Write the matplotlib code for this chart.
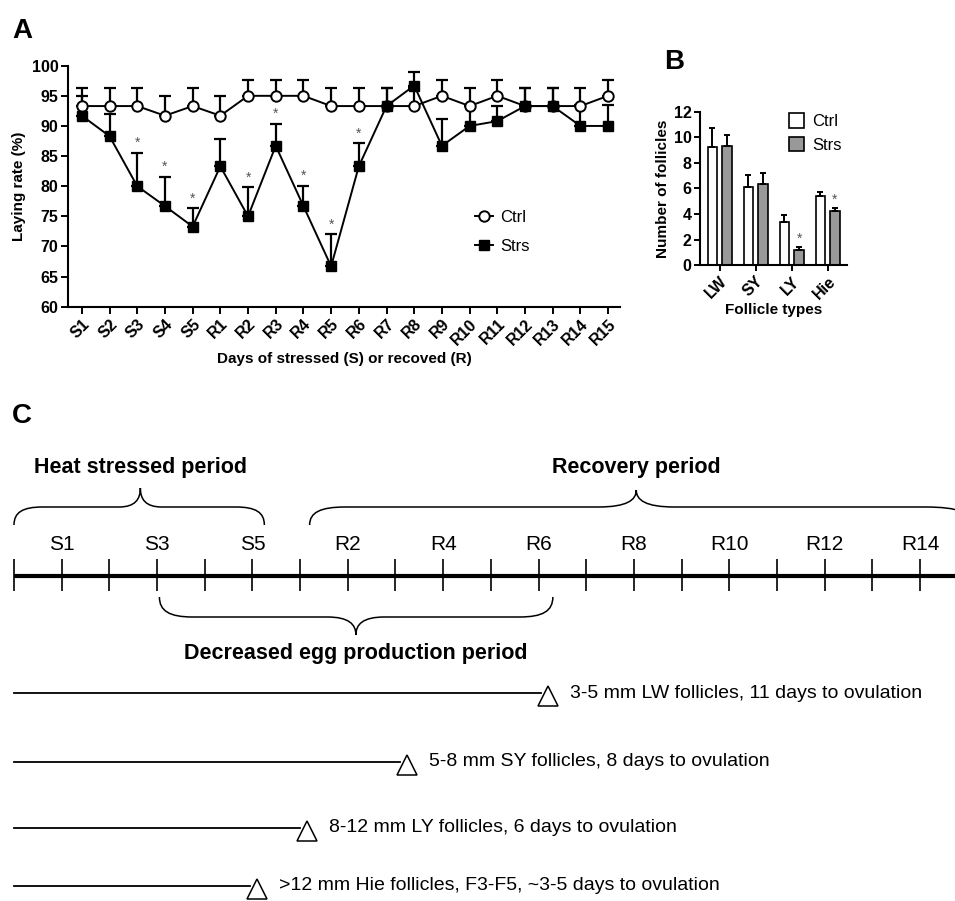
import numpy as np
import matplotlib
matplotlib.use("Agg")
import matplotlib.pyplot as plt
from matplotlib.path import Path
from matplotlib.patches import PathPatch

plt.rcParams['font.family'] = ['Liberation Sans', 'DejaVu Sans']

# ------------------------------
# Panel A: laying rate
# ------------------------------
days = ['S1', 'S2', 'S3', 'S4', 'S5', 'R1', 'R2', 'R3', 'R4', 'R5',
        'R6', 'R7', 'R8', 'R9', 'R10', 'R11', 'R12', 'R13', 'R14', 'R15']
ctrl_rate = [93.3, 93.3, 93.3, 91.7, 93.3, 91.7, 95.0, 95.0, 95.0, 93.3,
             93.3, 93.3, 93.3, 95.0, 93.3, 95.0, 93.3, 93.3, 93.3, 95.0]
ctrl_err = [3.0, 3.0, 3.0, 3.3, 3.0, 3.3, 2.7, 2.7, 2.7, 3.0,
            3.0, 3.0, 3.0, 2.7, 3.0, 2.7, 3.0, 3.0, 3.0, 2.7]
strs_rate = [91.7, 88.3, 80.0, 76.7, 73.3, 83.3, 75.0, 86.7, 76.7, 66.7,
             83.3, 93.3, 96.7, 86.7, 90.0, 90.8, 93.3, 93.3, 90.0, 90.0]
strs_err = [3.3, 3.7, 5.5, 4.9, 3.0, 4.5, 4.8, 3.6, 3.3, 5.3,
            3.8, 3.0, 2.2, 4.4, 3.3, 2.5, 3.0, 3.0, 3.5, 3.5]
sig_days = ['S3', 'S4', 'S5', 'R2', 'R3', 'R4', 'R5', 'R6']

# ------------------------------
# Panel B: follicle numbers
# ------------------------------
follicle_types = ['LW', 'SY', 'LY', 'Hie']
ctrl_count = [9.25, 6.15, 3.4, 5.4]
ctrl_count_err = [1.5, 0.9, 0.5, 0.3]
strs_count = [9.3, 6.35, 1.2, 4.25]
strs_count_err = [0.9, 0.85, 0.25, 0.2]
sig_types = ['LY', 'Hie']

# ------------------------------
# Panel C: timeline scheme
# ------------------------------
n_days = 20
timeline_labels = ['S1', 'S3', 'S5', 'R2', 'R4', 'R6', 'R8', 'R10', 'R12', 'R14']
timeline_label_days = [1, 3, 5, 7, 9, 11, 13, 15, 17, 19]
# (text, start day, tip day, end day)
period_up = [('Heat stressed period', 0.0, 2.65, 5.25),
             ('Recovery period', 6.2, 13.05, 20.1)]
period_down = [('Decreased egg production period', 3.05, 7.17, 11.3)]
follicle_desc = ['3-5 mm LW follicles, 11 days to ovulation',
                 '5-8 mm SY follicles, 8 days to ovulation',
                 '8-12 mm LY follicles, 6 days to ovulation',
                 '>12 mm Hie follicles, F3-F5, ~3-5 days to ovulation']
follicle_days = [11.2, 8.25, 6.15, 5.1]

W, H = 955, 901
fig = plt.figure(figsize=(W / 100, H / 100), dpi=100)

# ---------- A ----------
axA = fig.add_axes([68 / W, 1 - 306.7 / H, (620 - 68) / W, (306.7 - 65.7) / H])
x = np.arange(len(days))
axA.errorbar(x, ctrl_rate, yerr=[np.zeros(len(x)), ctrl_err], fmt='none',
             ecolor='black', elinewidth=1.6, capsize=4.5, capthick=1.6, zorder=2)
axA.errorbar(x, strs_rate, yerr=[np.zeros(len(x)), strs_err], fmt='none',
             ecolor='black', elinewidth=1.6, capsize=4.5, capthick=1.6, zorder=2)
axA.plot(x, ctrl_rate, color='black', lw=1.4, marker='o', ms=7.5,
         mfc='white', mec='black', mew=1.4, zorder=3, label='Ctrl')
axA.plot(x, strs_rate, color='black', lw=1.4, marker='s', ms=7.5,
         mfc='black', mec='black', zorder=4, label='Strs')
for d in sig_days:
    i = days.index(d)
    axA.text(i, strs_rate[i] + strs_err[i] + 0.5, '*', ha='center', va='bottom',
             fontsize=10, color='#555555')
axA.set_ylim(60, 100)
axA.set_xlim(-0.5, 19.43)
axA.set_yticks(np.arange(60, 101, 5))
axA.set_xticks(x)
axA.set_xticklabels(days, rotation=45, ha='right', rotation_mode='anchor',
                    fontsize=11.5, fontweight='bold')
for lab in axA.get_yticklabels():
    lab.set_fontsize(11.5)
    lab.set_fontweight('bold')
axA.spines['top'].set_visible(False)
axA.spines['right'].set_visible(False)
for s in ['left', 'bottom']:
    axA.spines[s].set_linewidth(1.5)
axA.tick_params(width=1.4, length=5, pad=2)
axA.set_ylabel('Laying rate (%)', fontsize=11, fontweight='bold', labelpad=4)
axA.set_xlabel('Days of stressed (S) or recoved (R)', fontsize=11,
               fontweight='bold', labelpad=3)
axA.legend(loc='center left', bbox_to_anchor=(0.71, 0.31), frameon=False,
           handlelength=1.1, fontsize=12, handletextpad=0.4, labelspacing=0.85)

# ---------- B ----------
axB = fig.add_axes([700 / W, 1 - 265.3 / H, (847 - 700) / W, (265.3 - 111.7) / H])
xb = np.arange(len(follicle_types))
bw = 0.26
off = 0.205
axB.bar(xb - off, ctrl_count, bw, color='white', edgecolor='black', lw=1.2,
        label='Ctrl', yerr=[np.zeros(4), ctrl_count_err],
        error_kw=dict(elinewidth=1.4, capsize=2.5, capthick=1.4))
axB.bar(xb + off, strs_count, bw, color='#999999', edgecolor='black', lw=1.2,
        label='Strs', yerr=[np.zeros(4), strs_count_err],
        error_kw=dict(elinewidth=1.4, capsize=2.5, capthick=1.4))
for t in sig_types:
    i = follicle_types.index(t)
    axB.text(i + off, strs_count[i] + strs_count_err[i] + 0.1, '*',
             ha='center', va='bottom', fontsize=10, color='#555555')
axB.set_ylim(0, 12)
axB.set_xlim(-0.55, 3.54)
axB.set_yticks(np.arange(0, 13, 2))
axB.set_xticks(xb)
axB.set_xticklabels(follicle_types, rotation=45, ha='right',
                    rotation_mode='anchor', fontsize=11.5, fontweight='bold')
for lab in axB.get_yticklabels():
    lab.set_fontsize(11.5)
    lab.set_fontweight('bold')
axB.spines['top'].set_visible(False)
axB.spines['right'].set_visible(False)
for s in ['left', 'bottom']:
    axB.spines[s].set_linewidth(1.5)
axB.tick_params(width=1.4, length=4, pad=2)
axB.set_ylabel('Number of follicles', fontsize=11, fontweight='bold', labelpad=3)
axB.set_xlabel('Follicle types', fontsize=11, fontweight='bold', labelpad=1)
axB.legend(loc='upper left', bbox_to_anchor=(0.5, 1.09), frameon=False,
           fontsize=12, handlelength=0.9, handleheight=1.0, handletextpad=0.5,
           labelspacing=0.45)

# ---------- C ----------
top_c = 380
axC = fig.add_axes([0, 0, 1, (H - top_c) / H])
px_per_day = (920 - 14) / 19.0
axC.set_xlim(-14 / px_per_day, (W - 14) / px_per_day)
axC.set_ylim(H, top_c)
axC.axis('off')

y_line = 576
axC.plot([0, 21], [y_line, y_line], color='black', lw=3, solid_capstyle='butt')
axC.vlines(np.arange(n_days), y_line - 17, y_line + 15, color='black', lw=1.2)
for lab, d in zip(timeline_labels, timeline_label_days):
    axC.text(d, 545, lab, ha='center', va='center', fontsize=15)


def brace(ax, x0, xm, x1, yh, h_end, h_tip, r_end, r_tip, r_end2=None):
    r_end2 = r_end if r_end2 is None else r_end2
    verts = [(x0, yh + h_end),
             (x0, yh + h_end * 0.3), (x0 + r_end * 0.3, yh), (x0 + r_end, yh),
             (xm - r_tip, yh),
             (xm - r_tip * 0.25, yh), (xm, yh - h_tip * 0.4), (xm, yh - h_tip),
             (xm, yh - h_tip * 0.4), (xm + r_tip * 0.25, yh), (xm + r_tip, yh),
             (x1 - r_end2, yh),
             (x1 - r_end2 * 0.3, yh), (x1, yh + h_end * 0.3), (x1, yh + h_end)]
    codes = [Path.MOVETO, Path.CURVE4, Path.CURVE4, Path.CURVE4, Path.LINETO,
             Path.CURVE4, Path.CURVE4, Path.CURVE4,
             Path.CURVE4, Path.CURVE4, Path.CURVE4, Path.LINETO,
             Path.CURVE4, Path.CURVE4, Path.CURVE4]
    ax.add_patch(PathPatch(Path(verts, codes), fc='none', ec='black', lw=1.1))


brace(axC, *period_up[0][1:], 507, 18, 19, 0.6, 0.45)
brace(axC, *period_up[1][1:], 507, 18, 17, 0.75, 0.8, r_end2=1.0)
for txt, a, m, b in period_up:
    axC.text(m, 467, txt, ha='center', va='center', fontsize=15.5, fontweight='bold')
for txt, a, m, b in period_down:
    brace(axC, a, m, b, 617, -20, -18, 0.7, 0.6)
    axC.text(m, 653, txt, ha='center', va='center', fontsize=15.5, fontweight='bold')

follicle_y = [693, 762, 828, 886]
for desc, d, yy in zip(follicle_desc, follicle_days, follicle_y):
    axC.plot([0, d - 0.15], [yy, yy], color='black', lw=1.3)
    axC.plot(d, yy + 3, marker='^', ms=14, mfc='white', mec='black', mew=1.1)
    axC.text(d + 0.45, yy, desc, ha='left', va='center', fontsize=14)

# panel letters
fig.text(12 / W, 1 - 31 / H, 'A', fontsize=20, fontweight='bold', va='center')
fig.text(664 / W, 1 - 62 / H, 'B', fontsize=20, fontweight='bold', va='center')
fig.text(12 / W, 1 - 416 / H, 'C', fontsize=20, fontweight='bold', va='center')

fig.savefig('out.png', dpi=100)
